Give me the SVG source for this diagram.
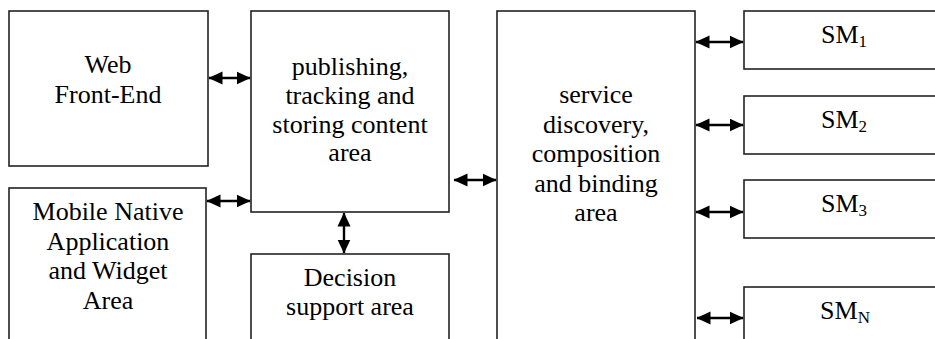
<svg xmlns="http://www.w3.org/2000/svg" width="935" height="339" viewBox="0 0 935 339">
  <style>
    .box { fill: #ffffff; stroke: #222222; stroke-width: 1.6; }
    .lbl { font-size: 26px; fill: #000000; text-anchor: middle; }
    .sub { font-size: 17px; }
    .link { stroke: #000000; stroke-width: 2.4; fill: none; marker-start: url(#head); marker-end: url(#head); }
  </style>
  <defs>
    <marker id="head" viewBox="0 0 14 14" refX="13.5" refY="7" markerWidth="14" markerHeight="14" markerUnits="userSpaceOnUse" orient="auto-start-reverse">
      <path d="M0,0.5 L14,7 L0,13.5 Z" fill="#000000"/>
    </marker>
  </defs>
  <rect width="935" height="339" fill="#ffffff"/>

  <g font-family="'Liberation Serif', 'Times New Roman', 'DejaVu Serif', serif">
  <g id="web-front-end">
    <rect class="box" x="9" y="11" width="199" height="155"/>
    <text class="lbl" x="108" y="73">Web</text>
    <text class="lbl" x="108" y="103">Front-End</text>
  </g>

  <g id="mobile-native">
    <rect class="box" x="9" y="188" width="197" height="170"/>
    <text class="lbl" x="108" y="220">Mobile Native</text>
    <text class="lbl" x="108" y="249.5">Application</text>
    <text class="lbl" x="108" y="279">and Widget</text>
    <text class="lbl" x="108" y="308.5">Area</text>
  </g>

  <g id="publishing">
    <rect class="box" x="251" y="11" width="198" height="201"/>
    <text class="lbl" x="350" y="75">publishing,</text>
    <text class="lbl" x="350" y="104">tracking and</text>
    <text class="lbl" x="350" y="133">storing content</text>
    <text class="lbl" x="350" y="161">area</text>
  </g>

  <g id="decision-support">
    <rect class="box" x="251" y="254" width="198" height="100"/>
    <text class="lbl" x="350" y="286">Decision</text>
    <text class="lbl" x="350" y="315">support area</text>
  </g>

  <g id="service-discovery">
    <rect class="box" x="497" y="11" width="198" height="345"/>
    <text class="lbl" x="596" y="103">service</text>
    <text class="lbl" x="596" y="132.5">discovery,</text>
    <text class="lbl" x="596" y="162">composition</text>
    <text class="lbl" x="596" y="191.5">and binding</text>
    <text class="lbl" x="596" y="221">area</text>
  </g>

  <g id="sm-1">
    <rect class="box" x="744" y="11" width="210" height="58"/>
    <text class="lbl" x="844" y="43">SM<tspan class="sub" dy="4">1</tspan></text>
  </g>
  <g id="sm-2">
    <rect class="box" x="744" y="96" width="210" height="58"/>
    <text class="lbl" x="844" y="128">SM<tspan class="sub" dy="4">2</tspan></text>
  </g>
  <g id="sm-3">
    <rect class="box" x="744" y="180" width="210" height="58"/>
    <text class="lbl" x="844" y="212">SM<tspan class="sub" dy="4">3</tspan></text>
  </g>
  <g id="sm-n">
    <rect class="box" x="744" y="287" width="210" height="70"/>
    <text class="lbl" x="845" y="319">SM<tspan class="sub" dy="4">N</tspan></text>
  </g>
  </g>

  <g id="connectors">
    <line class="link" x1="209" y1="78" x2="250" y2="78"/>
    <line class="link" x1="207" y1="201" x2="250" y2="201"/>
    <line class="link" x1="344" y1="213" x2="344" y2="253"/>
    <line class="link" x1="454" y1="180" x2="496" y2="180"/>
    <line class="link" x1="696" y1="42" x2="743" y2="42"/>
    <line class="link" x1="696" y1="125" x2="743" y2="125"/>
    <line class="link" x1="696" y1="212" x2="743" y2="212"/>
    <line class="link" x1="697" y1="318" x2="743" y2="318"/>
  </g>
</svg>
